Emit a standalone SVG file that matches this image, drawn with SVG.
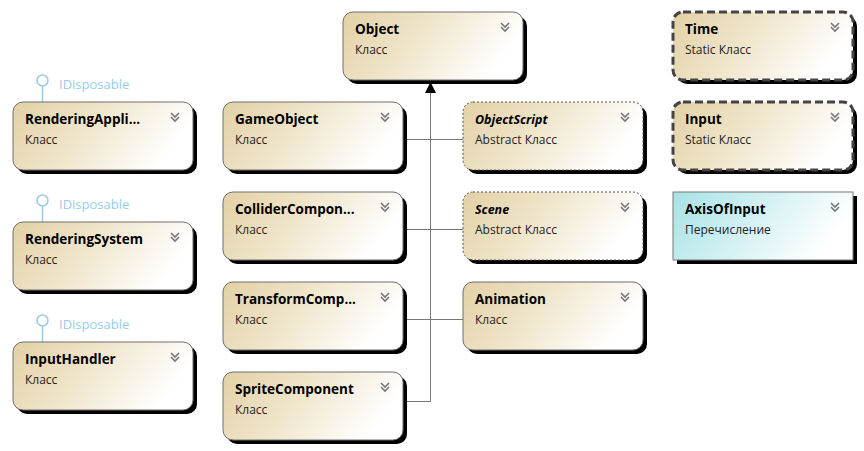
<svg xmlns="http://www.w3.org/2000/svg" width="864" height="451" viewBox="0 0 864 451">
<defs>
<linearGradient id="tan" x1="0" y1="0" x2="1" y2="0.3">
<stop offset="0" stop-color="#e2d1a6"/>
<stop offset="0.45" stop-color="#efe4c8"/>
<stop offset="1" stop-color="#ffffff"/>
</linearGradient>
<linearGradient id="cyan" x1="0" y1="0" x2="1" y2="0.3">
<stop offset="0" stop-color="#a6e2e6"/>
<stop offset="1" stop-color="#ffffff"/>
</linearGradient>
<symbol id="chev" viewBox="0 0 12 12" overflow="visible">
<polyline points="1,1 5,5 9,1" fill="none" stroke="#777" stroke-width="1.6"/>
<polyline points="1,5 5,9 9,5" fill="none" stroke="#777" stroke-width="1.6"/>
</symbol>
</defs>
<style>
.shadow{fill:#000}
.box{fill:url(#tan);stroke:#6e6e6e;stroke-width:1}
.abs{fill:url(#tan);stroke:#555;stroke-width:1;stroke-dasharray:2 2}
.stat{fill:url(#tan);stroke:#444;stroke-width:3;stroke-dasharray:8 4}
.enum{fill:url(#cyan);stroke:#777;stroke-width:1}
.t{font-family:"Open Sans","Noto Sans",sans-serif;font-size:13.5px;font-weight:bold;fill:#000}
.ti{font-family:"Open Sans","Noto Sans",sans-serif;font-size:12.5px;font-weight:bold;font-style:italic;fill:#000}
.s{font-family:"Open Sans","Noto Sans",sans-serif;font-size:12px;fill:#222}
.if{font-family:"Open Sans","Noto Sans",sans-serif;font-size:13px;fill:#9ccbe8}
.c{stroke:#777;stroke-width:1;fill:none}
.lol{stroke:#9ccbe8;stroke-width:1.5;fill:#fff}
</style>

<g id="connectors">
<line class="c" x1="430.5" y1="92" x2="430.5" y2="401.5"/>
<line class="c" x1="402" y1="139.5" x2="463" y2="139.5"/>
<line class="c" x1="402" y1="229.5" x2="463" y2="229.5"/>
<line class="c" x1="402" y1="319.5" x2="463" y2="319.5"/>
<line class="c" x1="402" y1="401.5" x2="430.5" y2="401.5"/>
<polygon points="430.5,82 425,93 436,93" fill="#000"/>
</g>

<g id="lollipops">
<line class="lol" x1="42.5" y1="86" x2="42.5" y2="102"/>
<circle class="lol" cx="42.5" cy="80.5" r="5.5"/>
<text class="if" x="59" y="89">IDisposable</text>
<line class="lol" x1="42.5" y1="206" x2="42.5" y2="222"/>
<circle class="lol" cx="42.5" cy="200.5" r="5.5"/>
<text class="if" x="59" y="209">IDisposable</text>
<line class="lol" x1="42.5" y1="326" x2="42.5" y2="342"/>
<circle class="lol" cx="42.5" cy="320.5" r="5.5"/>
<text class="if" x="59" y="329">IDisposable</text>
</g>

<g id="Object">
<rect class="shadow" x="347" y="16" width="180" height="68" rx="10"/>
<rect class="box" x="343" y="12" width="180" height="68" rx="10"/>
<text class="t" x="355" y="34">Object</text>
<text class="s" x="355" y="54">Класс</text>
<use href="#chev" x="500" y="22" width="12" height="12"/>
</g>

<g id="Time">
<rect class="shadow" x="677" y="16" width="180" height="68" rx="10"/>
<rect class="stat" x="673" y="12" width="180" height="68" rx="10"/>
<text class="t" x="685" y="34">Time</text>
<text class="s" x="685" y="54">Static Класс</text>
<use href="#chev" x="830" y="22" width="12" height="12"/>
</g>

<g id="Input">
<rect class="shadow" x="677" y="106" width="180" height="68" rx="10"/>
<rect class="stat" x="673" y="102" width="180" height="68" rx="10"/>
<text class="t" x="685" y="124">Input</text>
<text class="s" x="685" y="144">Static Класс</text>
<use href="#chev" x="830" y="112" width="12" height="12"/>
</g>

<g id="AxisOfInput">
<rect class="shadow" x="677" y="196" width="180" height="68"/>
<rect class="enum" x="673" y="192" width="180" height="68"/>
<text class="t" x="685" y="214">AxisOfInput</text>
<text class="s" x="685" y="234">Перечисление</text>
<use href="#chev" x="830" y="202" width="12" height="12"/>
</g>

<g id="RenderingApplication">
<rect class="shadow" x="17" y="106" width="180" height="68" rx="10"/>
<rect class="box" x="13" y="102" width="180" height="68" rx="10"/>
<text class="t" x="25" y="124">RenderingAppli...</text>
<text class="s" x="25" y="144">Класс</text>
<use href="#chev" x="170" y="112" width="12" height="12"/>
</g>

<g id="RenderingSystem">
<rect class="shadow" x="17" y="226" width="180" height="68" rx="10"/>
<rect class="box" x="13" y="222" width="180" height="68" rx="10"/>
<text class="t" x="25" y="244">RenderingSystem</text>
<text class="s" x="25" y="264">Класс</text>
<use href="#chev" x="170" y="232" width="12" height="12"/>
</g>

<g id="InputHandler">
<rect class="shadow" x="17" y="346" width="180" height="68" rx="10"/>
<rect class="box" x="13" y="342" width="180" height="68" rx="10"/>
<text class="t" x="25" y="364">InputHandler</text>
<text class="s" x="25" y="384">Класс</text>
<use href="#chev" x="170" y="352" width="12" height="12"/>
</g>

<g id="GameObject">
<rect class="shadow" x="227" y="106" width="180" height="68" rx="10"/>
<rect class="box" x="223" y="102" width="180" height="68" rx="10"/>
<text class="t" x="235" y="124">GameObject</text>
<text class="s" x="235" y="144">Класс</text>
<use href="#chev" x="380" y="112" width="12" height="12"/>
</g>

<g id="ColliderComponent">
<rect class="shadow" x="227" y="196" width="180" height="68" rx="10"/>
<rect class="box" x="223" y="192" width="180" height="68" rx="10"/>
<text class="t" x="235" y="214">ColliderCompon...</text>
<text class="s" x="235" y="234">Класс</text>
<use href="#chev" x="380" y="202" width="12" height="12"/>
</g>

<g id="TransformComponent">
<rect class="shadow" x="227" y="286" width="180" height="68" rx="10"/>
<rect class="box" x="223" y="282" width="180" height="68" rx="10"/>
<text class="t" x="235" y="304">TransformComp...</text>
<text class="s" x="235" y="324">Класс</text>
<use href="#chev" x="380" y="292" width="12" height="12"/>
</g>

<g id="SpriteComponent">
<rect class="shadow" x="227" y="376" width="180" height="68" rx="10"/>
<rect class="box" x="223" y="372" width="180" height="68" rx="10"/>
<text class="t" x="235" y="394">SpriteComponent</text>
<text class="s" x="235" y="414">Класс</text>
<use href="#chev" x="380" y="382" width="12" height="12"/>
</g>

<g id="ObjectScript">
<rect class="shadow" x="467" y="106" width="180" height="68" rx="10"/>
<rect class="abs" x="463" y="102" width="180" height="68" rx="10"/>
<text class="ti" x="475" y="124">ObjectScript</text>
<text class="s" x="475" y="144">Abstract Класс</text>
<use href="#chev" x="620" y="112" width="12" height="12"/>
</g>

<g id="Scene">
<rect class="shadow" x="467" y="196" width="180" height="68" rx="10"/>
<rect class="abs" x="463" y="192" width="180" height="68" rx="10"/>
<text class="ti" x="475" y="214">Scene</text>
<text class="s" x="475" y="234">Abstract Класс</text>
<use href="#chev" x="620" y="202" width="12" height="12"/>
</g>

<g id="Animation">
<rect class="shadow" x="467" y="286" width="180" height="68" rx="10"/>
<rect class="box" x="463" y="282" width="180" height="68" rx="10"/>
<text class="t" x="475" y="304">Animation</text>
<text class="s" x="475" y="324">Класс</text>
<use href="#chev" x="620" y="292" width="12" height="12"/>
</g>
</svg>
